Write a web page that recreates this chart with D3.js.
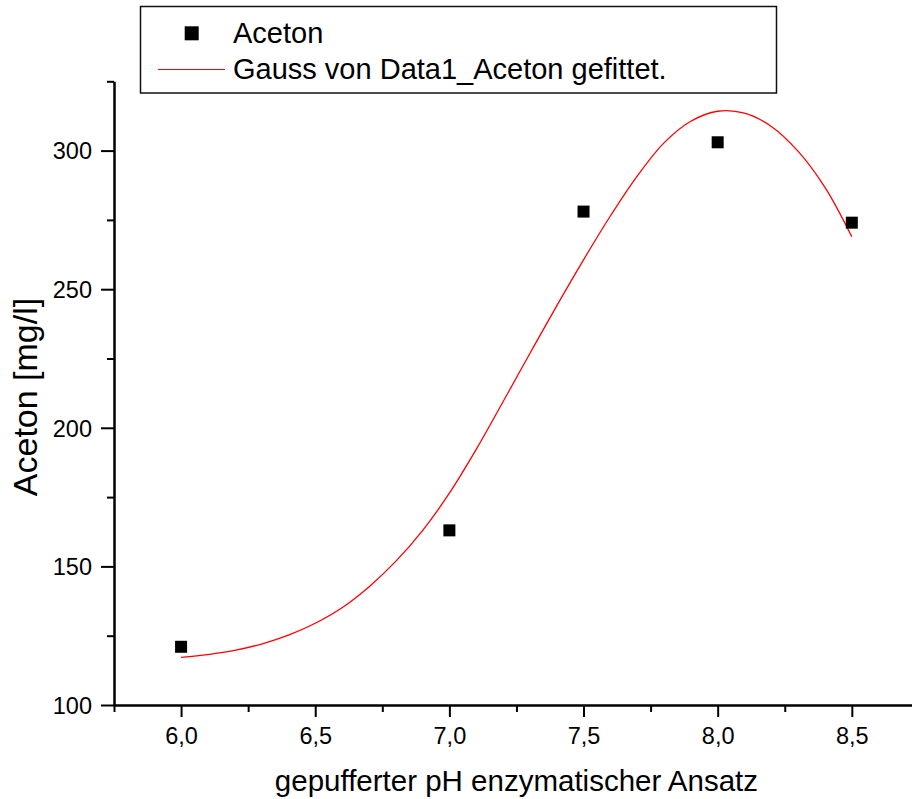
<!DOCTYPE html>
<html>
<head>
<meta charset="utf-8">
<script src="https://cdn.jsdelivr.net/npm/d3@7"></script>
<style>
  html, body { margin: 0; padding: 0; background: #fff; }
  svg { display: block; }
  text { font-family: "Liberation Sans", Arial, Helvetica, sans-serif; fill: #000; }
</style>
</head>
<body>
<svg id="chart" width="912" height="799"></svg>
<script>
// Measured acetone concentration per buffered pH
const phValues = [6.0, 7.0, 7.5, 8.0, 8.5];
const acetonValues = [121, 163, 278, 303, 274];

// Gauss fit curve, sampled every 0.1 pH
const fitPh = [6.0, 6.1, 6.2, 6.3, 6.4, 6.5, 6.6, 6.7, 6.8, 6.9, 7.0, 7.1, 7.2,
               7.3, 7.4, 7.5, 7.6, 7.7, 7.8, 7.9, 8.0, 8.1, 8.2, 8.3, 8.4, 8.5];
const fitAceton = [117.2, 118.2, 119.7, 122.0, 125.2, 129.5, 135.1, 142.6, 151.8, 162.9,
                   176.4, 192.2, 209.4, 226.8, 244.0, 260.6, 276.4, 290.8, 302.8, 310.6,
                   314.2, 313.5, 308.7, 299.7, 286.7, 268.9];

// Axis ticks
const xMajorTicks = [6.0, 6.5, 7.0, 7.5, 8.0, 8.5];
const xMinorTicks = [5.75, 6.25, 6.75, 7.25, 7.75, 8.25, 8.75];
const yMajorTicks = [100, 150, 200, 250, 300];
const yMinorTicks = [125, 175, 225, 275, 325];

const xDomain = [5.75, 8.75];
const yDomain = [100, 325];

const xTitle = "gepufferter pH enzymatischer Ansatz";
const yTitle = "Aceton [mg/l]";
const legendLabels = ["Aceton", "Gauss von Data1_Aceton gefittet."];

const svg = d3.select("#chart");
const plot = { left: 114, right: 918.9, top: 81.3, bottom: 705 };

const x = d3.scaleLinear().domain(xDomain).range([plot.left, plot.right]);
const y = d3.scaleLinear().domain(yDomain).range([plot.bottom, plot.top]);

const fmt = d => d.toFixed(1).replace(".", ",");

// Minor ticks (no labels)
svg.append("g")
  .attr("transform", `translate(0,${plot.bottom})`)
  .call(d3.axisBottom(x).tickValues(xMinorTicks).tickSize(7).tickSizeOuter(0).tickFormat(""))
  .call(g => g.select(".domain").remove())
  .call(g => g.selectAll("line").attr("stroke", "#000").attr("stroke-width", 2));

svg.append("g")
  .attr("transform", `translate(${plot.left},0)`)
  .call(d3.axisLeft(y).tickValues(yMinorTicks).tickSize(7).tickSizeOuter(0).tickFormat(""))
  .call(g => g.select(".domain").remove())
  .call(g => g.selectAll("line").attr("stroke", "#000").attr("stroke-width", 2));

// Major ticks with labels
svg.append("g")
  .attr("transform", `translate(0,${plot.bottom})`)
  .call(d3.axisBottom(x).tickValues(xMajorTicks).tickSize(12).tickSizeOuter(0).tickFormat(fmt))
  .call(g => g.select(".domain").attr("stroke", "#000").attr("stroke-width", 2.5))
  .call(g => g.selectAll("line").attr("stroke", "#000").attr("stroke-width", 2))
  .call(g => g.selectAll("text")
    .attr("y", 39).attr("dy", null)
    .attr("font-size", "23.5px").attr("font-family", null).attr("fill", "#000"));

svg.append("g")
  .attr("transform", `translate(${plot.left},0)`)
  .call(d3.axisLeft(y).tickValues(yMajorTicks).tickSize(13).tickSizeOuter(0).tickFormat(d3.format("d")))
  .call(g => g.select(".domain").attr("stroke", "#000").attr("stroke-width", 2.5))
  .call(g => g.selectAll("line").attr("stroke", "#000").attr("stroke-width", 2))
  .call(g => g.selectAll("text")
    .attr("x", -22).attr("dy", "0.35em")
    .attr("font-size", "23.5px").attr("font-family", null).attr("fill", "#000"));

// Axis titles
svg.append("text")
  .attr("x", (plot.left + plot.right) / 2)
  .attr("y", 791)
  .attr("text-anchor", "middle")
  .attr("font-size", "29.5px")
  .text(xTitle);

svg.append("text")
  .attr("transform", `translate(37,397) rotate(-90)`)
  .attr("text-anchor", "middle")
  .attr("font-size", "34px")
  .text(yTitle);

// Fit curve
const line = d3.line()
  .x((d, i) => x(fitPh[i]))
  .y(d => y(d))
  .curve(d3.curveCatmullRom.alpha(0.5));

svg.append("path")
  .datum(fitAceton)
  .attr("d", line)
  .attr("fill", "none")
  .attr("stroke", "#ff0000")
  .attr("stroke-width", 1.3);

// Measured points
const sq = 12;
svg.append("g")
  .selectAll("rect")
  .data(acetonValues)
  .join("rect")
  .attr("x", (d, i) => x(phValues[i]) - sq / 2)
  .attr("y", d => y(d) - sq / 2)
  .attr("width", sq)
  .attr("height", sq)
  .attr("fill", "#000");

// Legend
const legend = svg.append("g");
legend.append("rect")
  .attr("x", 140.5).attr("y", 6.5)
  .attr("width", 636).attr("height", 86.5)
  .attr("fill", "#fff")
  .attr("stroke", "#111")
  .attr("stroke-width", 1.5);

legend.append("rect")
  .attr("x", 191.7 - 7).attr("y", 33.3 - 7)
  .attr("width", 14).attr("height", 14)
  .attr("fill", "#000");

legend.append("line")
  .attr("x1", 158).attr("x2", 225)
  .attr("y1", 69.5).attr("y2", 69.5)
  .attr("stroke", "#ff0000")
  .attr("stroke-width", 1.2);

legend.selectAll("text.label")
  .data(legendLabels)
  .join("text")
  .attr("class", "label")
  .attr("x", 233)
  .attr("y", (d, i) => i === 0 ? 42.7 : 79.3)
  .attr("font-size", "29px")
  .text(d => d);
</script>
</body>
</html>
